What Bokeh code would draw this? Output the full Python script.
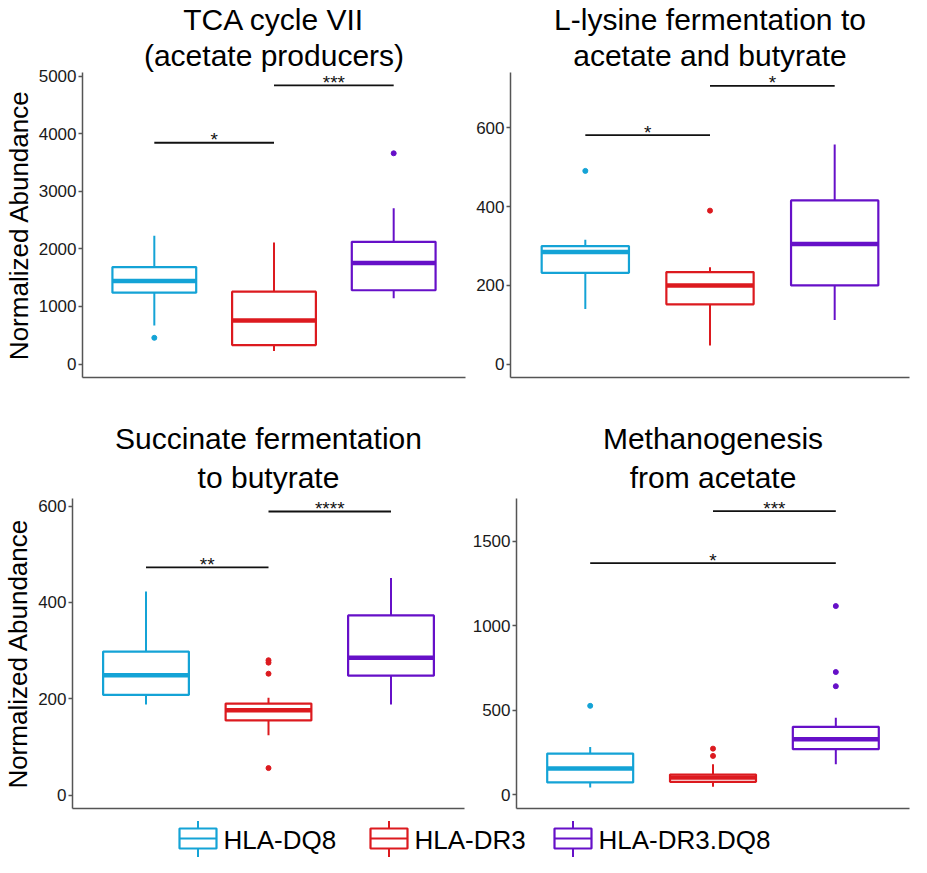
from bokeh.plotting import figure
from bokeh.layouts import column, row
from bokeh.models import Range1d, FixedTicker, Title, ColumnDataSource
from bokeh.core.properties import value
from bokeh.embed import file_html
from bokeh.resources import INLINE

FONT = "Liberation Sans"
AXIS_GRAY = "#555555"

groups = ["HLA-DQ8", "HLA-DR3", "HLA-DR3.DQ8"]
colors = ["#14A3D6", "#DC1A1F", "#6610C8"]

# ---- TCA cycle VII (acetate producers)
tca_lower = [671, 227, 1144]
tca_q1 = [1240, 330, 1281]
tca_median = [1440, 757, 1753]
tca_q3 = [1684, 1257, 2123]
tca_upper = [2226, 2111, 2704]
tca_out_group = ["HLA-DQ8", "HLA-DR3.DQ8"]
tca_out_value = [455, 3660]
tca_sig = [("HLA-DQ8", "HLA-DR3", 3843, "*"), ("HLA-DR3", "HLA-DR3.DQ8", 4839, "***")]
tca_ticks = [0, 1000, 2000, 3000, 4000, 5000]

# ---- L-lysine fermentation to acetate and butyrate
lys_lower = [140, 47, 112]
lys_q1 = [232, 152, 200]
lys_median = [285, 200, 305]
lys_q3 = [300, 234, 416]
lys_upper = [316, 246, 558]
lys_out_group = ["HLA-DQ8", "HLA-DR3"]
lys_out_value = [491, 390]
lys_sig = [("HLA-DQ8", "HLA-DR3", 582, "*"), ("HLA-DR3", "HLA-DR3.DQ8", 707, "*")]
lys_ticks = [0, 200, 400, 600]

# ---- Succinate fermentation to butyrate
suc_lower = [188, 124, 188]
suc_q1 = [208, 155, 248]
suc_median = [249, 176, 285]
suc_q3 = [298, 190, 373]
suc_upper = [423, 202, 451]
suc_out_group = ["HLA-DR3", "HLA-DR3", "HLA-DR3", "HLA-DR3"]
suc_out_value = [280, 275, 252, 56]
suc_sig = [("HLA-DQ8", "HLA-DR3", 473, "**"), ("HLA-DR3", "HLA-DR3.DQ8", 589, "****")]
suc_ticks = [0, 200, 400, 600]

# ---- Methanogenesis from acetate
met_lower = [43, 47, 181]
met_q1 = [73, 77, 270]
met_median = [155, 102, 329]
met_q3 = [244, 120, 402]
met_upper = [283, 181, 456]
met_out_group = ["HLA-DQ8", "HLA-DR3", "HLA-DR3", "HLA-DR3.DQ8", "HLA-DR3.DQ8", "HLA-DR3.DQ8"]
met_out_value = [526, 273, 230, 1116, 726, 642]
met_sig = [("HLA-DQ8", "HLA-DR3.DQ8", 1370, "*"), ("HLA-DR3", "HLA-DR3.DQ8", 1677, "***")]
met_ticks = [0, 500, 1000, 1500]

BOX_W = 0.7


def make_panel(title_lines, lower, q1, med, q3, upper, out_g, out_v, sig, ticks,
               y_start, y_end, width, height, borders, ylabel=None, title_standoff=10):
    # discrete positions 1..n for the groups, ggplot-like padding of 0.6
    pos = {g: i + 1 for i, g in enumerate(groups)}
    n = len(groups)
    p = figure(width=width, height=height, output_backend="svg", toolbar_location=None,
               x_range=Range1d(0.4, n + 0.6), y_range=Range1d(y_start, y_end),
               min_border_left=borders[0], min_border_right=borders[1],
               min_border_top=borders[2], min_border_bottom=borders[3])
    p.outline_line_color = None
    p.xgrid.visible = False
    p.ygrid.visible = False
    p.background_fill_color = "white"
    p.border_fill_color = "white"

    p.add_layout(Title(text=title_lines[1], align="center", text_font=FONT,
                       text_font_size="30px", text_font_style="normal",
                       text_color="#000000", standoff=title_standoff), "above")
    p.add_layout(Title(text=title_lines[0], align="center", text_font=FONT,
                       text_font_size="30px", text_font_style="normal",
                       text_color="#000000", standoff=0), "above")

    xs = [pos[g] for g in groups]
    src = ColumnDataSource(dict(x=xs, xl=[x - BOX_W / 2 for x in xs],
                                xr=[x + BOX_W / 2 for x in xs], color=colors,
                                lower=lower, q1=q1, median=med, q3=q3, upper=upper))
    p.segment(x0="x", x1="x", y0="q3", y1="upper", line_color="color",
              line_width=2, source=src)
    p.segment(x0="x", x1="x", y0="lower", y1="q1", line_color="color",
              line_width=2, source=src)
    p.quad(left="xl", right="xr", bottom="q1", top="q3", fill_color="white",
           line_color="color", line_width=2.2, source=src)
    p.segment(x0="xl", x1="xr", y0="median", y1="median", line_color="color",
              line_width=4.5, line_cap="butt", source=src)

    cmap = dict(zip(groups, colors))
    p.scatter(x=[pos[g] for g in out_g], y=out_v, color=[cmap[g] for g in out_g], size=5)

    for g1, g2, yv, lab in sig:
        p.segment(x0=[pos[g1]], x1=[pos[g2]], y0=[yv], y1=[yv],
                  line_color="#111111", line_width=1.8)
        p.text(x=[(pos[g1] + pos[g2]) / 2], y=[yv], text=[lab],
               text_align="center", text_baseline="alphabetic", y_offset=-3,
               text_font=value(FONT), text_font_size="19px", text_color="#111111")

    ya = p.yaxis[0]
    ya.ticker = FixedTicker(ticks=ticks)
    ya.major_label_text_font = FONT
    ya.major_label_text_font_size = "17px"
    ya.major_label_text_color = "#1a1a1a"
    ya.major_tick_out = 4
    ya.major_tick_in = 0
    ya.minor_tick_line_color = None
    ya.major_label_standoff = 2
    ya.axis_line_color = AXIS_GRAY
    ya.axis_line_width = 1.5
    ya.major_tick_line_color = AXIS_GRAY
    ya.major_tick_line_width = 1.5
    if ylabel:
        ya.axis_label = ylabel
        ya.axis_label_text_font = FONT
        ya.axis_label_text_font_size = "26px"
        ya.axis_label_text_font_style = "normal"
        ya.axis_label_text_color = "#000000"
        ya.axis_label_standoff = 2

    xa = p.xaxis[0]
    xa.ticker = FixedTicker(ticks=[], minor_ticks=[])
    xa.axis_line_color = AXIS_GRAY
    xa.axis_line_width = 1.5
    xa.major_tick_line_color = None
    xa.minor_tick_line_color = None
    return p


p1 = make_panel(["TCA cycle VII", "(acetate producers)"], tca_lower, tca_q1, tca_median,
                tca_q3, tca_upper, tca_out_group, tca_out_value, tca_sig, tca_ticks,
                -234, 5063, 470, 392, (74, 5, 68, 15), "Normalized Abundance", 2)
p2 = make_panel(["L-lysine fermentation to", "acetate and butyrate"], lys_lower, lys_q1,
                lys_median, lys_q3, lys_upper, lys_out_group, lys_out_value, lys_sig,
                lys_ticks, -34, 741, 441, 392, (40, 2, 68, 15), None, 2)
p3 = make_panel(["Succinate fermentation", "to butyrate"], suc_lower, suc_q1, suc_median,
                suc_q3, suc_upper, suc_out_group, suc_out_value, suc_sig, suc_ticks,
                -28, 616, 468, 428, (66, 4, 106, 12), "Normalized Abundance", 9)
p4 = make_panel(["Methanogenesis", "from acetate"], met_lower, met_q1, met_median,
                met_q3, met_upper, met_out_group, met_out_value, met_sig, met_ticks,
                -81, 1752, 443, 428, (48, 2, 106, 12), None, 9)

# ---- legend strip
leg = figure(width=911, height=37, output_backend="svg", toolbar_location=None,
             x_range=Range1d(0, 911), y_range=Range1d(37, 0),
             min_border=0, x_axis_location=None, y_axis_location=None)
leg.outline_line_color = None
leg.xgrid.visible = False
leg.ygrid.visible = False
key_x = [179, 370, 554]
key_w = 37
kl = key_x
kr = [k + key_w for k in key_x]
kc = [k + key_w / 2 for k in key_x]
leg.segment(x0=kc, x1=kc, y0=[0.5] * 3, y1=[27] * 3, line_color=colors, line_width=2)
leg.segment(x0=kc, x1=kc, y0=[10] * 3, y1=[36.5] * 3, line_color=colors, line_width=2)
leg.quad(left=kl, right=kr, top=[8] * 3, bottom=[28] * 3, fill_color="white",
         line_color=colors, line_width=2.2)
leg.segment(x0=kl, x1=kr, y0=[18] * 3, y1=[18] * 3, line_color=colors, line_width=2)
leg.text(x=[k + key_w + 7 for k in key_x], y=[19] * 3, text=groups,
         text_baseline="middle", text_align="left", text_font=value(FONT),
         text_font_size="26px", text_color="#000000")

layout = column(row(p1, p2), row(p3, p4), leg)

open("out.html", "w").write(file_html(layout, INLINE))
